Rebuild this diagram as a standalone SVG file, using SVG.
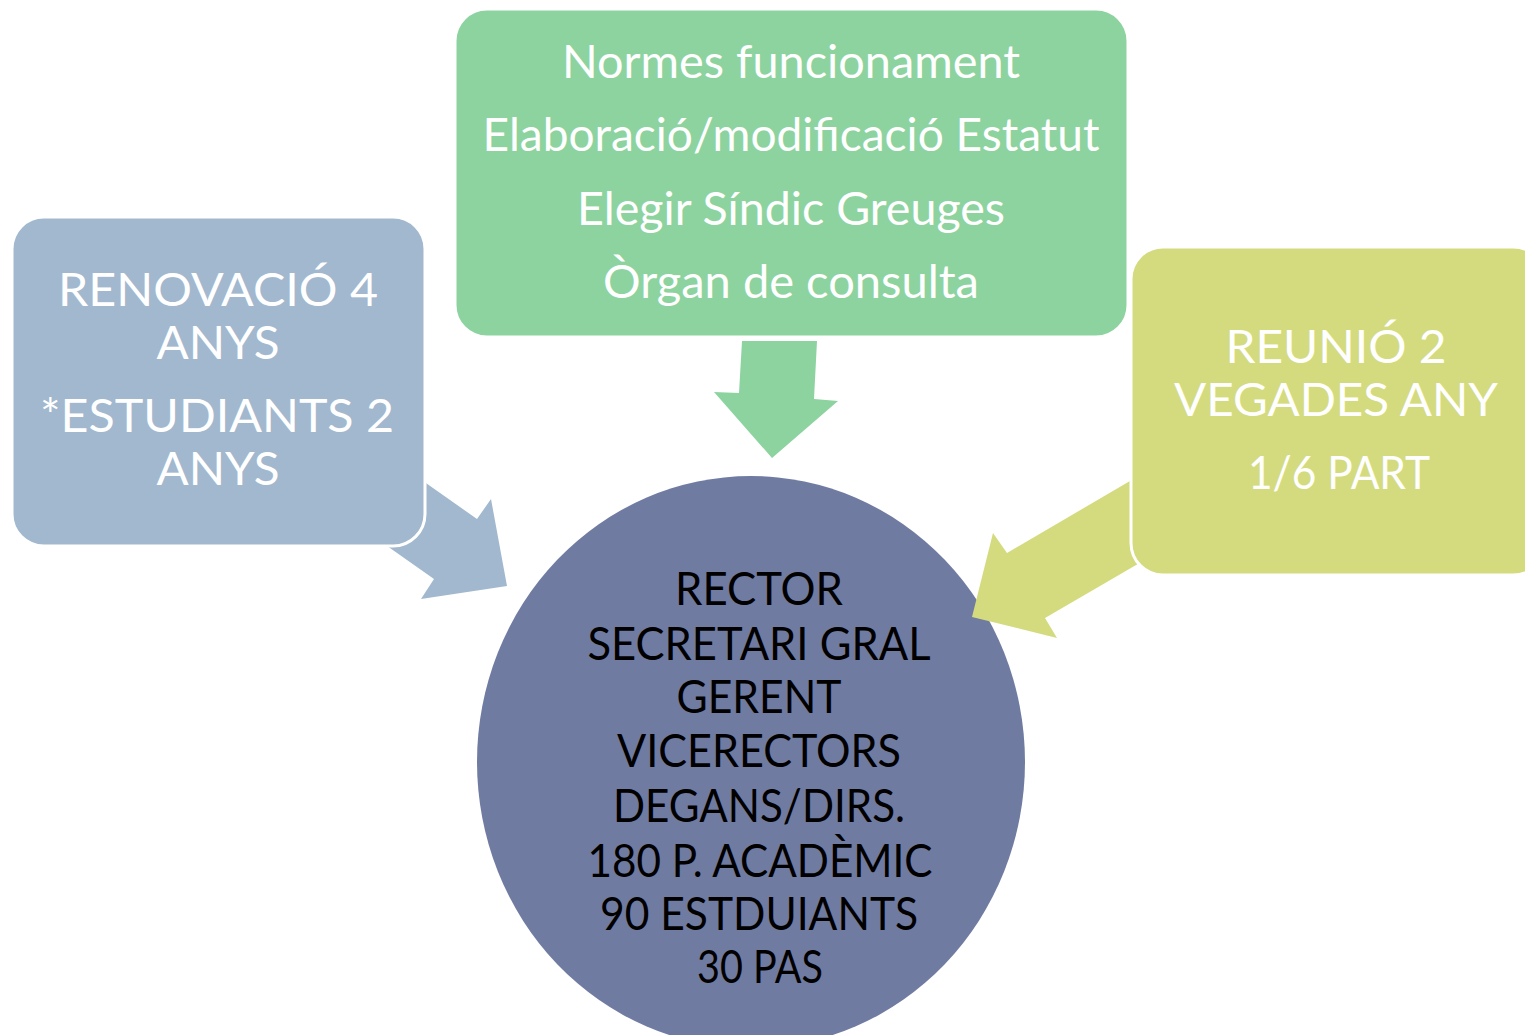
<svg xmlns="http://www.w3.org/2000/svg" width="1525" height="1035" viewBox="0 0 1525 1035">
<style>
.box{stroke:#fff;stroke-width:3}
.t{font-family:Lato,"Open Sans","Liberation Sans",sans-serif;font-size:46px;text-anchor:middle}
.w{fill:#fff}
.k{fill:#000}
</style>
<rect width="1525" height="1035" fill="#fff"/>
<g id="center">
<ellipse cx="751" cy="762" rx="274" ry="286" fill="#707BA1"/>
<text class="t k" x="759" y="605" textLength="168" lengthAdjust="spacingAndGlyphs">RECTOR</text>
<text class="t k" x="759" y="660" textLength="343" lengthAdjust="spacingAndGlyphs">SECRETARI GRAL</text>
<text class="t k" x="759" y="713" textLength="165" lengthAdjust="spacingAndGlyphs">GERENT</text>
<text class="t k" x="759" y="767" textLength="284" lengthAdjust="spacingAndGlyphs">VICERECTORS</text>
<text class="t k" x="759" y="822" textLength="292" lengthAdjust="spacingAndGlyphs">DEGANS/DIRS.</text>
<text class="t k" x="760" y="877" textLength="345" lengthAdjust="spacingAndGlyphs">180 P. ACADÈMIC</text>
<text class="t k" x="759" y="930" textLength="318" lengthAdjust="spacingAndGlyphs">90 ESTDUIANTS</text>
<text class="t k" x="760" y="983" textLength="126" lengthAdjust="spacingAndGlyphs">30 PAS</text>
</g>
<g id="connectors">
<polygon fill="#A2B8CE" points="362,438 477,519 491,499 507,586 421,599 434,579 326,503"/>
<polygon fill="#8DD3A0" points="742,341 817,341 814,399 838,401 772,458 714,392 739,393"/>
<polygon fill="#D4DB7E" points="1200,440 1007,553 993,533 972,617 1057,638 1045,618 1210,522"/>
</g>
<g id="left">
<rect class="box" x="12" y="217" width="413" height="329" rx="32" fill="#A2B8CE"/>
<text class="t w" x="218" y="306" textLength="320" lengthAdjust="spacingAndGlyphs">RENOVACIÓ 4</text>
<text class="t w" x="218" y="359" textLength="123" lengthAdjust="spacingAndGlyphs">ANYS</text>
<text class="t w" x="217" y="432" textLength="354" lengthAdjust="spacingAndGlyphs">*ESTUDIANTS 2</text>
<text class="t w" x="218" y="485" textLength="123" lengthAdjust="spacingAndGlyphs">ANYS</text>
</g>
<g id="top">
<rect class="box" x="455" y="9" width="673" height="328" rx="32" fill="#8DD3A0"/>
<text class="t w" x="791" y="78" textLength="458" lengthAdjust="spacingAndGlyphs">Normes funcionament</text>
<text class="t w" x="791" y="151" textLength="617" lengthAdjust="spacingAndGlyphs">Elaboració/modificació Estatut</text>
<text class="t w" x="791" y="225" textLength="428" lengthAdjust="spacingAndGlyphs">Elegir Síndic Greuges</text>
<text class="t w" x="791" y="298" textLength="376" lengthAdjust="spacingAndGlyphs">Òrgan de consulta</text>
</g>
<g id="right">
<rect class="box" x="1131" y="247" width="414" height="328" rx="32" fill="#D4DB7E"/>
<text class="t w" x="1336" y="363" textLength="221" lengthAdjust="spacingAndGlyphs">REUNIÓ 2</text>
<text class="t w" x="1336" y="416" textLength="324" lengthAdjust="spacingAndGlyphs">VEGADES ANY</text>
<text class="t w" x="1339" y="489" textLength="182" lengthAdjust="spacingAndGlyphs">1/6 PART</text>
</g>
</svg>
